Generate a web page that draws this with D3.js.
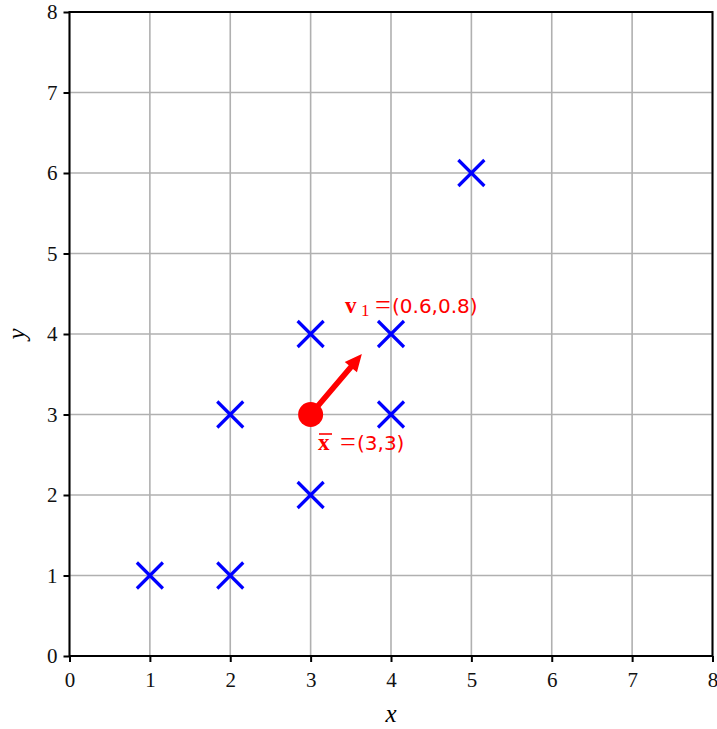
<!DOCTYPE html>
<html><head><meta charset="utf-8">
<script src="https://cdn.jsdelivr.net/npm/d3@7"></script>
<style>body{margin:0;background:#fff}</style>
</head><body>
<svg id="c" width="717" height="729"></svg>
<script>
const xs = [1, 2, 2, 3, 3, 4, 4, 5];
const ys = [1, 1, 3, 2, 4, 3, 4, 6];
const mean = [3, 3];
const v1 = [0.6, 0.8];
const ticks = [0, 1, 2, 3, 4, 5, 6, 7, 8];

const svg = d3.select("#c");
const L = 69.5, R = 712.5, T = 12, B = 656;
const x = d3.scaleLinear().domain([0, 8]).range([L, R]);
const y = d3.scaleLinear().domain([0, 8]).range([B, T]);
const font = "'Liberation Serif','DejaVu Serif',serif";
const sans = "'DejaVu Sans','Liberation Sans',sans-serif";

// grid
const g = svg.append("g");
g.selectAll(".gx").data(ticks).join("line")
  .attr("x1", d => x(d)).attr("x2", d => x(d)).attr("y1", T).attr("y2", B)
  .attr("stroke", "#b0b0b0").attr("stroke-width", 1.6);
g.selectAll(".gy").data(ticks).join("line")
  .attr("y1", d => y(d)).attr("y2", d => y(d)).attr("x1", L).attr("x2", R)
  .attr("stroke", "#b0b0b0").attr("stroke-width", 1.6);

// axes
const xAxis = d3.axisBottom(x).tickValues(ticks).tickSize(6).tickPadding(10).tickFormat(d3.format("d"));
const yAxis = d3.axisLeft(y).tickValues(ticks).tickSize(6).tickPadding(6).tickFormat(d3.format("d"));
const ax = svg.append("g").attr("transform", `translate(0,${B})`).call(xAxis);
const ay = svg.append("g").attr("transform", `translate(${L},0)`).call(yAxis);
[ax, ay].forEach(a => {
  a.attr("font-size", null).attr("font-family", null);
  a.select(".domain").remove();
  a.selectAll(".tick line").attr("stroke", "#000").attr("stroke-width", 2);
  a.selectAll(".tick text").style("font-family", font).style("font-size", "21px").attr("fill", "#111");
});
// frame
svg.append("rect").attr("x", L).attr("y", T).attr("width", R - L).attr("height", B - T)
  .attr("fill", "none").attr("stroke", "#000").attr("stroke-width", 2);

// points
const s = 13;
const pts = svg.append("g").selectAll("g").data(xs.map((d, i) => [d, ys[i]])).join("g")
  .attr("transform", d => `translate(${x(d[0])},${y(d[1])})`);
pts.append("line").attr("x1", -s).attr("y1", -s).attr("x2", s).attr("y2", s)
  .attr("stroke", "#0000ff").attr("stroke-width", 3.2);
pts.append("line").attr("x1", -s).attr("y1", s).attr("x2", s).attr("y2", -s)
  .attr("stroke", "#0000ff").attr("stroke-width", 3.2);

// arrow
const x0 = x(mean[0]), y0 = y(mean[1]);
const x1 = x(mean[0] + v1[0]) + 3, y1 = y(mean[1] + v1[1]) + 4;
const dx = x1 - x0, dy = y1 - y0, len = Math.hypot(dx, dy);
const ux = dx / len, uy = dy / len, px = -uy, py = ux;
const hl = 17, hw = 8, sw = 2.8;
const bx = x1 - ux * hl, by = y1 - uy * hl;
const poly = [
  [x0 + px * sw, y0 + py * sw], [bx + px * sw, by + py * sw], [bx + px * hw, by + py * hw],
  [x1, y1], [bx - px * hw, by - py * hw], [bx - px * sw, by - py * sw], [x0 - px * sw, y0 - py * sw]
];
svg.append("polygon").attr("points", poly.map(p => p.join(",")).join(" ")).attr("fill", "#ff0000");

// mean dot
svg.append("circle").attr("cx", x0).attr("cy", y0).attr("r", 12.5).attr("fill", "#ff0000");

// annotations
function txt(xp, yp, s, fam, size, weight) {
  return svg.append("text").attr("x", xp).attr("y", yp).attr("fill", "#ff0000")
    .style("font-family", fam).style("font-size", size + "px").style("font-weight", weight || "normal").text(s);
}
txt(345, 313, "v", font, 23, "bold");
txt(361, 316, "1", font, 17);
txt(375, 314, "=", font, 28);
txt(392, 313, "(0.6,0.8)", sans, 20);

txt(318, 450, "x", font, 23, "bold");
svg.append("line").attr("x1", 319).attr("x2", 332).attr("y1", 434).attr("y2", 434)
  .attr("stroke", "#ff0000").attr("stroke-width", 1.6);
txt(340, 451, "=", font, 28);
txt(357, 450, "(3,3)", sans, 20);

// axis labels
svg.append("text").attr("x", (L + R) / 2).attr("y", 722).attr("text-anchor", "middle")
  .style("font-family", font).style("font-style", "italic").style("font-size", "25px").text("x");
svg.append("text").attr("transform", `translate(25,${(T + B) / 2}) rotate(-90)`).attr("text-anchor", "middle")
  .style("font-family", font).style("font-style", "italic").style("font-size", "25px").text("y");
</script>
</body></html>
